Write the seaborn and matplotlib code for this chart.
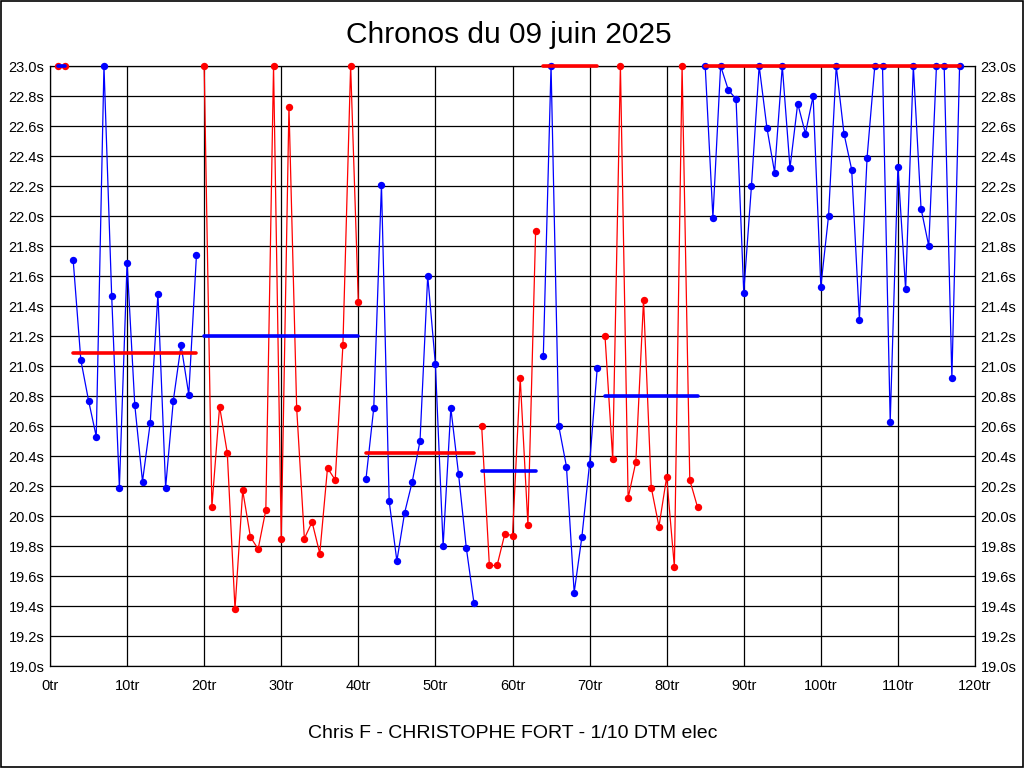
"""
Chronos du 09 juin 2025 -- lap times per session, with session average lines.
"""
import numpy as np
import pandas as pd
import matplotlib
matplotlib.use("Agg")
import matplotlib.pyplot as plt
from matplotlib.patches import Rectangle
import seaborn as sns

# lap times (s), laps 1..118
LAP_TIMES = [
    23.00, 23.00, 21.71, 21.04, 20.77, 20.53, 23.00, 21.47, 20.19, 21.69,
    20.74, 20.23, 20.62, 21.48, 20.19, 20.77, 21.14, 20.81, 21.74, 23.00,
    20.06, 20.73, 20.42, 19.38, 20.17, 19.86, 19.78, 20.04, 23.00, 19.85,
    22.73, 20.72, 19.85, 19.96, 19.75, 20.32, 20.24, 21.14, 23.00, 21.43,
    20.25, 20.72, 22.21, 20.10, 19.70, 20.02, 20.23, 20.50, 21.60, 21.01,
    19.80, 20.72, 20.28, 19.79, 19.42, 20.60, 19.67, 19.67, 19.88, 19.87,
    20.92, 19.94, 21.90, 21.07, 23.00, 20.60, 20.33, 19.49, 19.86, 20.35,
    20.99, 21.20, 20.38, 23.00, 20.12, 20.36, 21.44, 20.19, 19.93, 20.26,
    19.66, 23.00, 20.24, 20.06, 23.00, 21.99, 23.00, 22.84, 22.78, 21.49,
    22.20, 23.00, 22.59, 22.29, 23.00, 22.32, 22.75, 22.55, 22.80, 21.53,
    22.00, 23.00, 22.55, 22.31, 21.31, 22.39, 23.00, 23.00, 20.63, 22.33,
    21.51, 23.00, 22.05, 21.80, 23.00, 23.00, 20.92, 23.00,
]
SESSION_FIRST_LAP = [1, 3, 20, 41, 56, 64, 72, 85]
SESSION_LAST_LAP = [2, 19, 40, 55, 63, 71, 84, 118]
SESSION_AVG = [23.00, 21.09, 21.20, 20.42, 20.30, 23.00, 20.80, 23.00]

Y_TICKS = np.round(np.arange(19.0, 23.01, 0.2), 1)
X_TICKS = list(range(0, 121, 10))

RED = "#ff0000"
BLUE = "#0000ff"

df = pd.DataFrame({"lap": np.arange(1, len(LAP_TIMES) + 1), "time": LAP_TIMES})

sns.set_style("white")
plt.rcParams["font.family"] = ["Liberation Sans", "DejaVu Sans"]
plt.rcParams["text.color"] = "black"

fig = plt.figure(figsize=(10.24, 7.68), dpi=100)
ax = fig.add_axes([50 / 1024, 1 - 666 / 768, 925 / 1024, 600 / 768])

for i, (a, b, avg) in enumerate(zip(SESSION_FIRST_LAP, SESSION_LAST_LAP, SESSION_AVG)):
    pts_col, avg_col = (RED, BLUE) if i % 2 == 0 else (BLUE, RED)
    seg = df[(df["lap"] >= a) & (df["lap"] <= b)]
    sns.lineplot(data=seg, x="lap", y="time", color=pts_col, lw=0.9,
                 marker="o", markersize=5.3, markeredgewidth=0,
                 clip_on=False, zorder=3, ax=ax)
    avg_df = pd.DataFrame({"lap": [a, b], "time": [avg, avg]})
    sns.lineplot(data=avg_df, x="lap", y="time", color=avg_col, lw=2.6,
                 clip_on=False, zorder=4, ax=ax)

ax.set_xlim(0, 120)
ax.set_ylim(19.0, 23.0)
ax.set_xticks(X_TICKS)
ax.set_xticklabels([f"{x}tr" for x in X_TICKS])
ax.set_yticks(Y_TICKS)
ax.set_yticklabels([f"{y:.1f}s" for y in Y_TICKS])
ax.tick_params(length=0, labelsize=10.5, labelright=True, pad=4, colors="black")
ax.tick_params(axis="x", pad=9)
ax.grid(True, color="black", lw=0.9)
ax.set_axisbelow(True)
for sp in ax.spines.values():
    sp.set_color("black")
    sp.set_linewidth(0.9)
ax.set_xlabel("")
ax.set_ylabel("")

fig.text(0.497, 1 - 35 / 768, "Chronos du 09 juin 2025", ha="center", va="center",
         fontsize=21.5, color="black")
fig.text(0.501, 1 - 733 / 768, "Chris F - CHRISTOPHE FORT - 1/10 DTM elec",
         ha="center", va="center", fontsize=14, color="black")
fig.patches.append(Rectangle((0.0005, 0.0008), 0.9985, 0.998, transform=fig.transFigure,
                             fill=False, edgecolor="black", lw=1.2))

fig.savefig("out.png", dpi=100)
